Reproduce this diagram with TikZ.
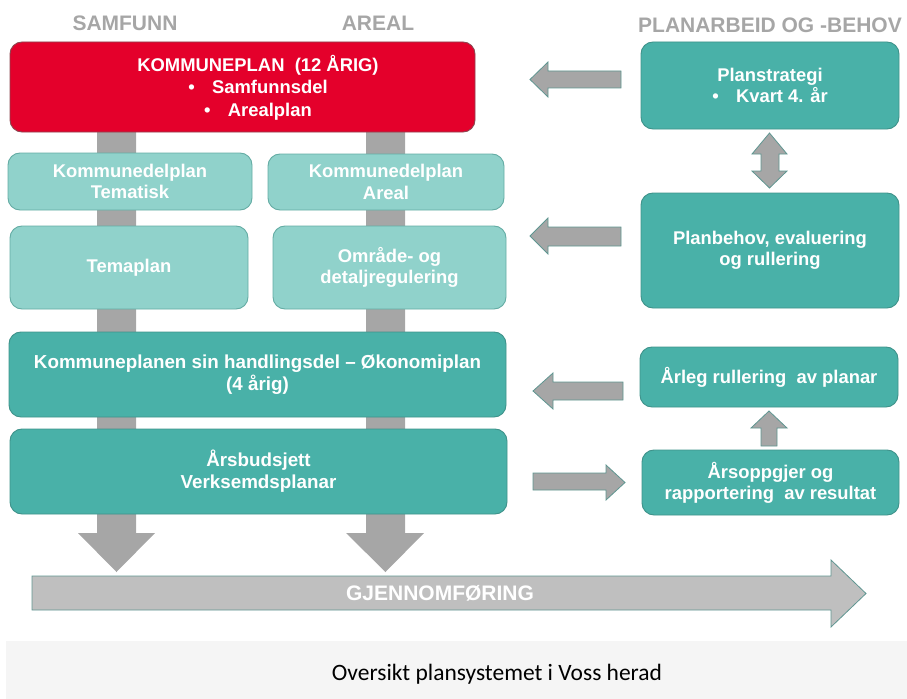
\documentclass[tikz,border=0pt]{standalone}
\usepackage{fontspec}
\setmainfont{Liberation Sans}
\newfontfamily\capfont{Carlito}
\definecolor{kred}{RGB}{228,0,43}
\definecolor{kredline}{RGB}{140,70,80}
\definecolor{tealdark}{RGB}{73,177,168}
\definecolor{teallight}{RGB}{144,210,203}
\definecolor{tealline}{RGB}{62,146,138}
\definecolor{tealline2}{RGB}{100,172,164}
\definecolor{barg}{RGB}{166,166,166}
\definecolor{arrowline}{RGB}{95,150,145}
\definecolor{headg}{RGB}{166,166,166}
\definecolor{gjg}{RGB}{191,191,191}
\definecolor{capbg}{RGB}{245,245,245}
\newcommand\boxfont{\bfseries\fontsize{13.8pt}{16pt}\selectfont}
\newcommand\widefont{\bfseries\fontsize{14.1pt}{16.5pt}\selectfont}
\newcommand\redfont{\bfseries\fontsize{13.8pt}{16.9pt}\selectfont}
\newcommand\headfont{\bfseries\fontsize{15.75pt}{18pt}\selectfont}
\begin{document}
\begin{tikzpicture}[x=0.75pt,y=-0.75pt,
  box/.style={rounded corners=9pt, draw=tealline, line width=0.7pt, inner sep=0pt, align=center, text=white, font=\boxfont},
  darkbox/.style={box, fill=tealdark},
  lightbox/.style={box, fill=teallight, draw=tealline2},
  redbox/.style={box, fill=kred, draw=kredline},
  head/.style={text=headg, font=\headfont, inner sep=0pt},
  blockarrow/.style={fill=barg, draw=arrowline, line width=0.6pt},
  column/.style={fill=barg, draw=none}
]
\useasboundingbox (0,0) rectangle (907,699);

% headers
\node[head] (hs) at (125,23) {SAMFUNN};
\node[head] (ha) at (378,23) {AREAL};
\node[head] (hp) at (770,25) {PLANARBEID OG -BEHOV};

% columns with down arrows (behind boxes)
\path[column] (97,125) -- (136,125) -- (136,533) -- (155,533) -- (116.5,572) -- (78,533) -- (97,533) -- cycle;
\path[column] (366,125) -- (405,125) -- (405,533) -- (424,533) -- (385.5,572) -- (346,533) -- (366,533) -- cycle;

% left boxes
\node[redbox, minimum width=348.75pt, minimum height=67.5pt] (kp) at (242.5,87) {};
\node[text=white, font=\redfont, align=center, inner sep=0pt] (kpt) at (258,87.5)
  {KOMMUNEPLAN\ \ (12 ÅRIG)\\ •\hspace{13pt}Samfunnsdel\\ •\hspace{13pt}Arealplan};
\node[lightbox, minimum width=183pt, minimum height=42.75pt] (kdt) at (130,181.5) {Kommunedelplan\\Tematisk};
\node[lightbox, minimum width=177pt, minimum height=42pt] (kda) at (386,182) {Kommunedelplan\\Areal};
\node[lightbox, minimum width=178.5pt, minimum height=62.25pt] (tema) at (129,267.5) {Temaplan};
\node[lightbox, minimum width=174.75pt, minimum height=62.25pt] (omr) at (389.5,267.5) {Område- og\\detaljregulering};
\node[darkbox, font=\widefont, minimum width=372.75pt, minimum height=63.75pt] (hand) at (257.5,374.5) {Kommuneplanen sin handlingsdel – Økonomiplan\\(4 årig)};
\node[darkbox, font=\widefont, minimum width=372.75pt, minimum height=63.75pt] (bud) at (258.5,471.5) {Årsbudsjett\\Verksemdsplanar};

% right boxes
\node[darkbox, minimum width=193.5pt, minimum height=65.25pt] (ps) at (770,85.5) {Planstrategi\\ •\hspace{13pt}Kvart 4. år};
\node[darkbox, minimum width=193.5pt, minimum height=86.25pt] (pb) at (770,250.5) {Planbehov, evaluering\\og rullering};
\node[darkbox, minimum width=193.5pt, minimum height=45pt] (ar) at (769,377) {Årleg rullering\ \ av planar};
\node[darkbox, minimum width=192.75pt, minimum height=48.75pt] (ao) at (770.5,482.5) {Årsoppgjer og\\rapportering\ \ av resultat};

% side block arrows
\draw[blockarrow] (621,71) -- (548,71) -- (548,62) -- (530,79.5) -- (548,97) -- (548,88) -- (621,88) -- cycle;
\draw[blockarrow] (621,227) -- (548,227) -- (548,218) -- (530,236) -- (548,254) -- (548,246) -- (621,246) -- cycle;
\draw[blockarrow] (623,382) -- (553,382) -- (553,373) -- (533,391) -- (553,409) -- (553,400) -- (623,400) -- cycle;
\draw[blockarrow] (533,473) -- (606,473) -- (606,465) -- (625,482.5) -- (606,500) -- (606,490) -- (533,490) -- cycle;
% up arrow
\draw[blockarrow] (761,446) -- (761,428) -- (751,428) -- (769,411) -- (787,428) -- (777,428) -- (777,446) -- cycle;
% double arrow
\draw[blockarrow] (769.5,133) -- (787,154) -- (779,154) -- (779,171) -- (787,171) -- (769.5,188) -- (752,171) -- (761,171) -- (761,154) -- (752,154) -- cycle;

% GJENNOMFORING arrow
\draw[fill=gjg, draw=arrowline, line width=0.6pt] (32,576) -- (831,576) -- (831,560) -- (866,593.5) -- (831,627) -- (831,610) -- (32,610) -- cycle;
\node[text=white, font=\headfont, inner sep=0pt] (gj) at (440,593) {GJENNOMFØRING};

% caption band
\fill[capbg] (6,641) rectangle (907,699);
\node[font=\capfont\fontsize{17.6pt}{20pt}\selectfont, inner sep=0pt, anchor=base] (cap) at (497,680) {Oversikt plansystemet i Voss herad};
\end{tikzpicture}
\end{document}
